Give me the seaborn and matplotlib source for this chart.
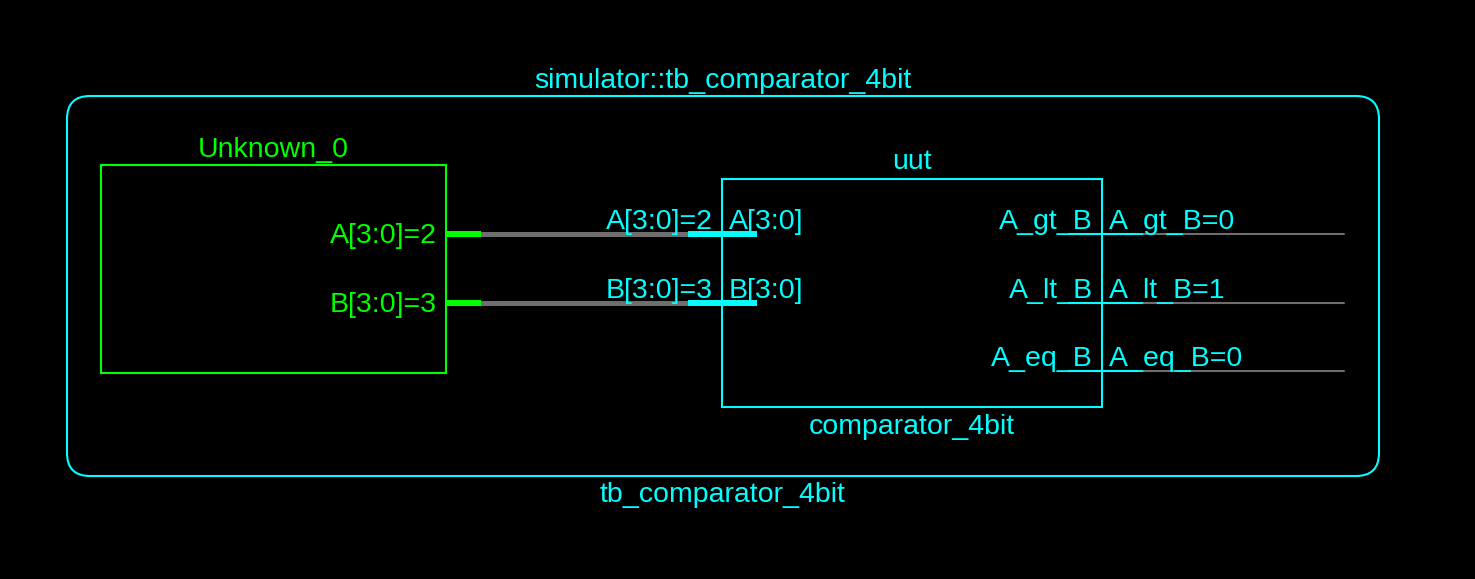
import numpy as np
import pandas as pd
import matplotlib
matplotlib.use("Agg")
import matplotlib.pyplot as plt
from matplotlib.patches import FancyBboxPatch, Rectangle
import seaborn as sns

# --- schematic content ---
top_name = "simulator::tb_comparator_4bit"
top_module = "tb_comparator_4bit"
src_inst = "Unknown_0"
uut_inst = "uut"
uut_module = "comparator_4bit"
in_ports = ["A[3:0]", "B[3:0]"]
in_values = [2, 3]
out_ports = ["A_gt_B", "A_lt_B", "A_eq_B"]
out_values = [0, 1, 0]

# --- layout (pixel units) ---
W, H = 1475, 579
CYAN = "#00FFFF"
GREEN = "#00FF00"
GRAY = "#6E6E6E"
FONT = "Liberation Sans"
FS = 20.5
row_y0, row_pitch = 234, 68.5
outer = (67, 96, 1379, 476)
src_box = (101, 165, 446, 373)
uut_box = (722, 179, 1102, 407)

sns.set_theme(style="dark", rc={"axes.facecolor": "black",
                                "figure.facecolor": "black"})
plt.rcParams["font.family"] = [FONT, "DejaVu Sans"]

fig = plt.figure(figsize=(W / 100, H / 100), dpi=100)
ax = fig.add_axes([0, 0, 1, 1])
ax.set_xlim(0, W)
ax.set_ylim(H, 0)
ax.set_axis_off()


def label(x, y, s, color, ha="center"):
    ax.text(x, y, s, color=color, ha=ha, va="baseline", fontsize=FS,
            fontfamily=FONT)


# outer testbench frame
x0, y0, x1, y1 = outer
ax.add_patch(FancyBboxPatch((x0, y0), x1 - x0, y1 - y0,
                            boxstyle="round,pad=0,rounding_size=23",
                            fill=False, ec=CYAN, lw=1.5))
label((x0 + x1) / 2, 88, top_name, CYAN)
label((x0 + x1) / 2, 502, top_module, CYAN)

# source instance
x0, y0, x1, y1 = src_box
ax.add_patch(Rectangle((x0, y0), x1 - x0, y1 - y0, fill=False, ec=GREEN, lw=1.5))
label((x0 + x1) / 2, 157, src_inst, GREEN)

# uut instance
x0, y0, x1, y1 = uut_box
ax.add_patch(Rectangle((x0, y0), x1 - x0, y1 - y0, fill=False, ec=CYAN, lw=1.5))
label((x0 + x1) / 2, 169, uut_inst, CYAN)
label((x0 + x1) / 2, 434, uut_module, CYAN)

# input nets
in_rows = [row_y0 + i * row_pitch for i in range(len(in_ports))]
nets = pd.DataFrame({
    "x": np.tile([481, 688], len(in_ports)),
    "y": np.repeat(in_rows, 2),
    "seg": np.repeat(in_ports, 2),
})
sns.lineplot(data=nets, x="x", y="y", units="seg", estimator=None,
             color=GRAY, lw=3.6, sort=False, ax=ax)
for name, val, y in zip(in_ports, in_values, in_rows):
    ax.plot([446, 481], [y, y], color=GREEN, lw=4.3, solid_capstyle="butt")
    ax.plot([688, 757], [y, y], color=CYAN, lw=4.3, solid_capstyle="butt")
    label(437, y + 9, f"{name}={val}", GREEN, ha="right")
    label(713, y - 5, f"{name}={val}", CYAN, ha="right")
    label(729, y - 5, name, CYAN, ha="left")

# output nets
out_rows = [row_y0 + i * row_pitch for i in range(len(out_ports))]
outs = pd.DataFrame({
    "x": np.tile([1137, 1344], len(out_ports)),
    "y": np.repeat(out_rows, 2),
    "seg": np.repeat(out_ports, 2),
})
sns.lineplot(data=outs, x="x", y="y", units="seg", estimator=None,
             color=GRAY, lw=1.5, sort=False, ax=ax)
for name, val, y in zip(out_ports, out_values, out_rows):
    ax.plot([1068, 1137], [y, y], color=CYAN, lw=1.5, solid_capstyle="butt")
    label(1093, y - 5, name, CYAN, ha="right")
    label(1109, y - 5, f"{name}={val}", CYAN, ha="left")

if ax.get_legend():
    ax.get_legend().remove()
ax.set_xlim(0, W)
ax.set_ylim(H, 0)
fig.savefig("out.png", dpi=100, facecolor="black")
